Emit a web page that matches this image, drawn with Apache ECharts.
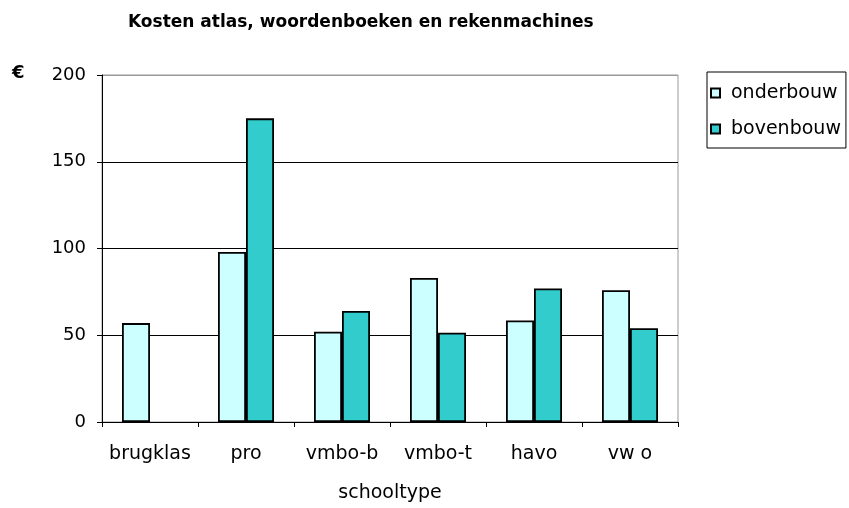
<!DOCTYPE html>
<html>
<head>
<meta charset="utf-8">
<script src="https://cdn.jsdelivr.net/npm/echarts@6/dist/echarts.min.js"></script>
<style>
  html, body { margin: 0; padding: 0; background: #fff; }
  #chart { width: 849px; height: 508px; }
</style>
</head>
<body>
<div id="chart"></div>
<script>
var categories = ["brugklas", "pro", "vmbo-b", "vmbo-t", "havo", "vw o"];
var onderbouw = [57, 98, 52, 83, 58.5, 76];
var bovenbouw = [null, 175, 64, 51.5, 77, 54];
var yTicks = [0, 50, 100, 150, 200];

var chart = echarts.init(document.getElementById("chart"));
var font = "DejaVu Sans, sans-serif";

var option = {
  backgroundColor: "#fff",
  animation: false,
  title: {
    text: "Kosten atlas, woordenboeken en rekenmachines",
    left: 123,
    top: 9,
    textStyle: { fontFamily: font, fontSize: 17, fontWeight: "bold", color: "#000" }
  },
  graphic: [
    {
      type: "text",
      left: 12,
      top: 64,
      style: { text: "€", font: "bold 18px " + font, fill: "#000" }
    }
  ],
  legend: {
    orient: "vertical",
    left: 707,
    top: 72,
    padding: [11, 5, 9, 3],
    itemGap: 16,
    itemWidth: 9,
    itemHeight: 9,
    icon: "rect",
    borderColor: "#000",
    borderWidth: 1,
    textStyle: { fontFamily: font, fontSize: 19, color: "#000", padding: [0, 0, 0, 6], lineHeight: 20 },
    data: ["onderbouw", "bovenbouw"]
  },
  grid: {
    left: 102,
    top: 75,
    width: 576,
    height: 347,
    show: true,
    borderColor: "#999",
    borderWidth: 1,
    backgroundColor: "transparent"
  },
  xAxis: {
    type: "category",
    data: categories,
    name: "schooltype",
    nameLocation: "middle",
    nameGap: 62,
    nameTextStyle: { fontFamily: font, fontSize: 19, color: "#000" },
    axisLine: { lineStyle: { color: "#000", width: 1 } },
    axisTick: { show: true, interval: 0, length: 5, lineStyle: { color: "#000" } },
    axisLabel: { interval: 0, fontFamily: font, fontSize: 19, color: "#000", margin: 23 }
  },
  yAxis: {
    type: "value",
    min: yTicks[0],
    max: yTicks[yTicks.length - 1],
    interval: 50,
    axisLine: { show: true, lineStyle: { color: "#000", width: 1 } },
    axisTick: { show: true, length: 5, lineStyle: { color: "#000" } },
    axisLabel: { fontFamily: font, fontSize: 18, color: "#000", margin: 16 },
    splitLine: { show: true, lineStyle: { color: ["#000", "#000", "#000", "#000", "#999"], width: 1 } }
  },
  series: [
    {
      name: "onderbouw",
      type: "bar",
      data: onderbouw,
      barWidth: 28,
      barGap: "0%",
      itemStyle: { color: "#CCFFFF", borderColor: "#000", borderWidth: 1.8 }
    },
    {
      name: "bovenbouw",
      type: "bar",
      data: bovenbouw,
      barWidth: 28,
      barGap: "0%",
      itemStyle: { color: "#33CCCC", borderColor: "#000", borderWidth: 1.8 }
    }
  ]
};

chart.setOption(option);
</script>
</body>
</html>
